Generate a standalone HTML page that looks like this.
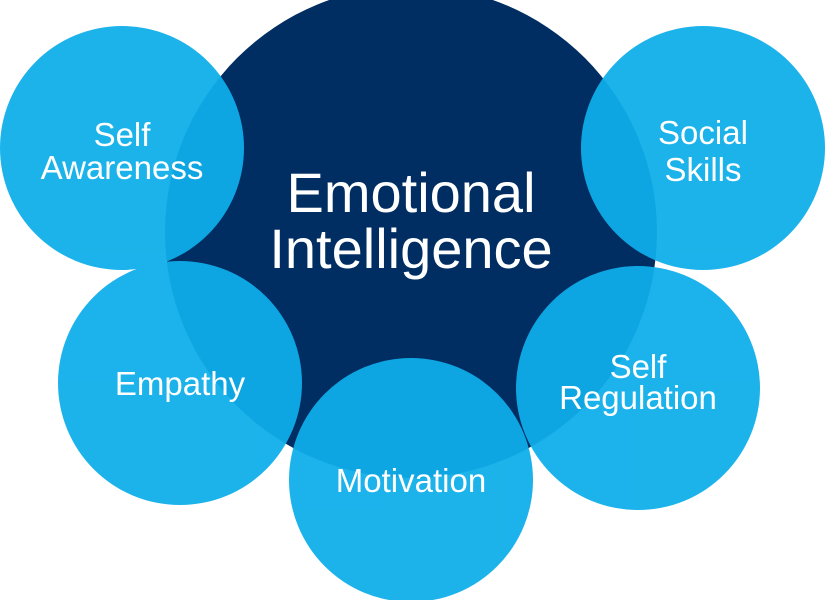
<!DOCTYPE html>
<html><head><style>
html,body{margin:0;padding:0;background:#fff;}
svg{display:block}
text{font-family:"Liberation Sans",sans-serif;fill:#fff;text-anchor:middle}
</style></head><body>
<svg width="825" height="600" viewBox="0 0 825 600">
<circle cx="411" cy="232" r="246" fill="#002d62"/>
<g fill="#0eaeea" opacity="0.94">
<circle cx="122" cy="148" r="122"/>
<circle cx="703" cy="148" r="122"/>
<circle cx="180" cy="383" r="122"/>
<circle cx="638" cy="388" r="122"/>
<circle cx="411" cy="480" r="122"/>
</g>
<text x="411" y="212" font-size="56">Emotional</text>
<text x="411" y="268" font-size="56">Intelligence</text>
<text x="122" y="146" font-size="33">Self</text>
<text x="122" y="179" font-size="33">Awareness</text>
<text x="703" y="144" font-size="33">Social</text>
<text x="703" y="181" font-size="33">Skills</text>
<text x="180" y="395" font-size="33">Empathy</text>
<text x="638" y="378" font-size="33">Self</text>
<text x="638" y="409" font-size="33">Regulation</text>
<text x="411" y="492" font-size="33">Motivation</text>
</svg>
</body></html>
